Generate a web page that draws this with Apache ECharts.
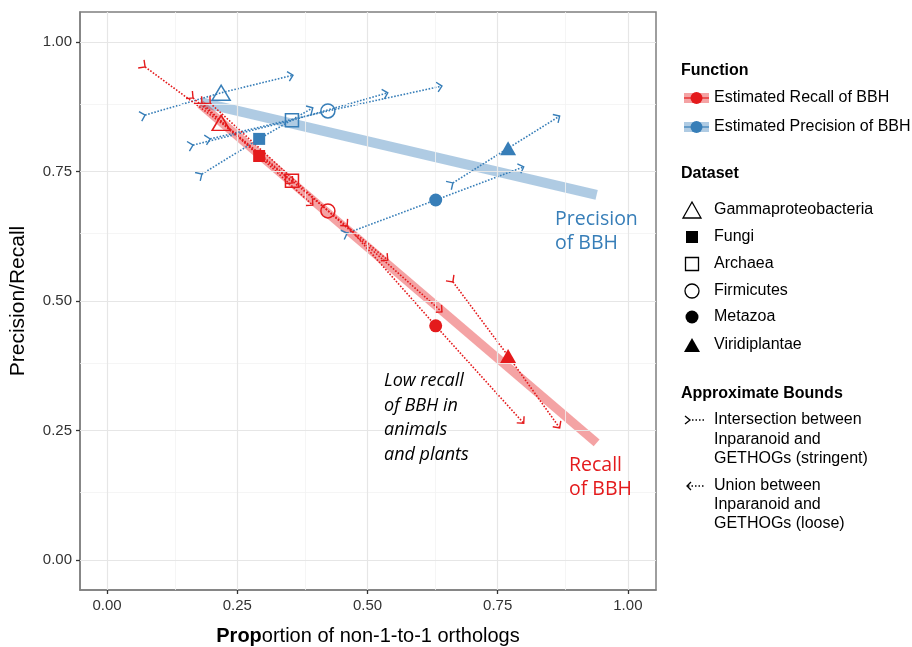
<!DOCTYPE html>
<html><head><meta charset="utf-8">
<script src="https://cdn.jsdelivr.net/npm/echarts@6/dist/echarts.min.js"></script>
<style>html,body{margin:0;padding:0;background:#fff}#c{width:912px;height:647px}</style>
</head><body><div id="c"></div>
<script>
// ---- data ----
const datasets = ['Gammaproteobacteria', 'Fungi', 'Archaea', 'Firmicutes', 'Metazoa', 'Viridiplantae'];
const propX = [0.219, 0.292, 0.355, 0.424, 0.631, 0.770];
const recallY = [0.844, 0.780, 0.732, 0.674, 0.452, 0.394];
const precisionY = [0.902, 0.813, 0.849, 0.867, 0.695, 0.795];
// approximate bounds: stringent (intersection) and loose (union)
const stringentX = [0.073, 0.182, 0.165, 0.198, 0.461, 0.664];
const looseX = [0.357, 0.395, 0.539, 0.643, 0.800, 0.869];
const recallStringentY = [0.952, 0.882, 0.892, 0.882, 0.645, 0.537];
const recallLooseY = [0.728, 0.685, 0.579, 0.479, 0.264, 0.255];
const precisionStringentY = [0.859, 0.745, 0.801, 0.813, 0.631, 0.728];
const precisionLooseY = [0.936, 0.873, 0.902, 0.915, 0.759, 0.857];
// fitted trends
const recallTrend = [[0.179, 0.880], [0.940, 0.226]];
const precisionTrend = [[0.179, 0.884], [0.940, 0.705]];
// ticks
const majorTicks = [0, 0.25, 0.5, 0.75, 1];
const minorTicks = [0.125, 0.375, 0.625, 0.875];

// ---- styles ----
const RED = '#E41A1C', BLUE = '#377EB8';
const RED_L = 'rgba(228,26,28,0.4)', BLUE_L = 'rgba(55,126,184,0.4)';
const shapeOf = {Gammaproteobacteria:'triangle', Fungi:'rect', Archaea:'rect', Firmicutes:'circle', Metazoa:'circle', Viridiplantae:'triangle'};
const filledOf = {Gammaproteobacteria:false, Fungi:true, Archaea:false, Firmicutes:false, Metazoa:true, Viridiplantae:true};
const sizeOf = {Gammaproteobacteria:[18,15], Fungi:[12,12], Archaea:[13,13], Firmicutes:[14,14], Metazoa:[13,13], Viridiplantae:[16,14]};
const AX = 'Liberation Sans, Arial, sans-serif';
const LF = '16px ' + AX;

function pts(ys, color) {
  return datasets.map((d, i) => ({
    value: [propX[i], ys[i]],
    symbol: shapeOf[d],
    symbolSize: sizeOf[d],
    itemStyle: filledOf[d] ? {color: color, borderWidth: 0, opacity: 1}
      : {color: 'rgba(0,0,0,0)', borderColor: color, borderWidth: 1.5, opacity: 1}
  }));
}

function bounds(color, sY, pY, lY) {
  return {
    type: 'custom', silent: true, z: 4,
    data: datasets.map((d, i) => [stringentX[i], sY[i], propX[i], pY[i], looseX[i], lY[i]]),
    encode: {x: 0, y: 1},
    renderItem(params, api) {
      const t = api.coord([api.value(0), api.value(1)]);
      const p = api.coord([api.value(2), api.value(3)]);
      const h = api.coord([api.value(4), api.value(5)]);
      const L = 7, a = Math.PI / 4;
      const rot = (v, g) => [v[0]*Math.cos(g) - v[1]*Math.sin(g), v[0]*Math.sin(g) + v[1]*Math.cos(g)];
      const unit = (q, r) => { const dx = q[0]-r[0], dy = q[1]-r[1], n = Math.hypot(dx, dy); return [dx/n, dy/n]; };
      const d = unit(h, p), back = [-d[0], -d[1]];
      const o = unit(t, p);
      const arm = (base, v) => [base[0] + v[0]*L, base[1] + v[1]*L];
      const st = {stroke: color, lineWidth: 1.4, fill: null};
      return {type: 'group', children: [
        {type: 'polyline', shape: {points: [t, p, h]}, style: {stroke: color, lineWidth: 1.6, fill: null, lineDash: [1.6, 1.6]}},
        {type: 'polyline', shape: {points: [arm(h, rot(back, a)), h, arm(h, rot(back, -a))]}, style: st},
        {type: 'polyline', shape: {points: [arm(t, rot(o, a)), t, arm(t, rot(o, -a))]}, style: st}
      ]};
    }
  };
}

const chart = echarts.init(document.getElementById('c'), null, {renderer: 'canvas'});

const legendX = 692, textX = 714;
const g = [];
function T(x, y, s, font, fill, extra) {
  g.push({type: 'text', x: x, y: y, z: 10, style: Object.assign({text: s, font: font, fill: fill || '#000', verticalAlign: 'middle'}, extra || {})});
}
// Function keys
[[RED, RED_L, 98, 'Estimated Recall of BBH'], [BLUE, BLUE_L, 127, 'Estimated Precision of BBH']].forEach(k => {
  g.push({type: 'rect', shape: {x: 684, y: k[2]-5, width: 25, height: 10}, style: {fill: k[1]}});
  g.push({type: 'line', shape: {x1: 684, y1: k[2], x2: 709, y2: k[2]}, style: {stroke: k[0], lineWidth: 1.2}});
  g.push({type: 'circle', shape: {cx: 696.5, cy: k[2], r: 6}, style: {fill: k[0]}});
  T(textX, k[2], k[3], LF);
});
T(681, 71, 'Function', 'bold ' + LF);
T(681, 174, 'Dataset', 'bold ' + LF);
T(681, 394, 'Approximate Bounds', 'bold ' + LF);
const dsY = [210, 237, 264, 291, 317, 345];
datasets.forEach((d, i) => {
  const y = dsY[i];
  const sty = filledOf[d] ? {fill: '#000'} : {fill: null, stroke: '#000', lineWidth: 1.3};
  if (shapeOf[d] === 'triangle') {
    const w = d === 'Viridiplantae' ? 16 : 18, hh = d === 'Viridiplantae' ? 14 : 16;
    g.push({type: 'polygon', shape: {points: [[legendX, y - hh/2], [legendX + w/2, y + hh/2], [legendX - w/2, y + hh/2]]}, style: sty});
  } else if (shapeOf[d] === 'rect') {
    const s = filledOf[d] ? 12 : 13;
    g.push({type: 'rect', shape: {x: legendX - s/2, y: y - s/2, width: s, height: s}, style: sty});
  } else {
    g.push({type: 'circle', shape: {cx: legendX, cy: y, r: filledOf[d] ? 6.5 : 7}, style: sty});
  }
  T(textX, y, d, LF);
});
// bounds keys
g.push({type: 'polyline', shape: {points: [[685, 416], [690, 420], [685, 424]]}, style: {stroke: '#000', lineWidth: 1.3, fill: null}});
g.push({type: 'line', shape: {x1: 692, y1: 420, x2: 704, y2: 420}, style: {stroke: '#000', lineWidth: 1.3, lineDash: [1.5, 2]}});
g.push({type: 'polyline', shape: {points: [[691, 482], [687, 486], [691, 490]]}, style: {stroke: '#000', lineWidth: 1.3, fill: null}});
g.push({type: 'line', shape: {x1: 688, y1: 486, x2: 704, y2: 486}, style: {stroke: '#000', lineWidth: 1.3, lineDash: [1.5, 2]}});
[['Intersection between', 420], ['Inparanoid and', 440], ['GETHOGs (stringent)', 459],
 ['Union between', 486], ['Inparanoid and', 505], ['GETHOGs (loose)', 524]].forEach(r => T(textX, r[1], r[0], LF));
// annotations
g.push({type: 'text', x: 555, y: 207, z: 10, style: {text: 'Precision\nof BBH', font: '19.5px "Open Sans", sans-serif', fill: BLUE, lineHeight: 24, width: 120, overflow: 'none'}});
g.push({type: 'text', x: 569, y: 453, z: 10, style: {text: 'Recall\nof BBH', font: '19.5px "Open Sans", sans-serif', fill: RED, lineHeight: 24, width: 120, overflow: 'none'}});
g.push({type: 'text', x: 384, y: 369, z: 10, style: {text: 'Low recall\nof BBH in\nanimals\nand plants', font: 'italic 18px "Open Sans", sans-serif', fill: '#000', lineHeight: 24.5, width: 150, overflow: 'none'}});

const axisCommon = {
  type: 'value',
  axisLine: {show: true, onZero: false, lineStyle: {color: '#7f7f7f', width: 1.5}},
  axisTick: {show: true, customValues: majorTicks, length: 4, lineStyle: {color: '#333', width: 1.3}},
  axisLabel: {customValues: majorTicks, formatter: v => v.toFixed(2), fontFamily: AX, fontSize: 15, color: '#333', margin: 8},
  splitLine: {show: false}
};

chart.setOption({
  animation: false,
  backgroundColor: '#fff',
  grid: {left: 80, top: 12, width: 576, height: 578, show: true, borderColor: '#7f7f7f', borderWidth: 1.5, backgroundColor: '#fff', containLabel: false, outerBoundsMode: 'none'},
  xAxis: Object.assign({}, axisCommon, {
    min: -0.052, max: 1.054,
    name: '{b|Prop}ortion of non-1-to-1 orthologs', nameLocation: 'middle', nameGap: 36,
    nameTextStyle: {fontFamily: AX, fontSize: 20, color: '#000', rich: {b: {fontFamily: AX, fontSize: 20, fontWeight: 'bold', color: '#000'}}}
  }),
  yAxis: Object.assign({}, axisCommon, {
    min: -0.058, max: 1.058,
    name: 'Precision/Recall', nameLocation: 'middle', nameGap: 51,
    nameTextStyle: {fontFamily: AX, fontSize: 21, color: '#000'}
  }),
  graphic: g,
  series: [
    {type: 'line', data: [], z: 1, silent: true,
     markLine: {silent: true, symbol: ['none', 'none'], label: {show: false}, animation: false,
       lineStyle: {color: '#f3f3f3', width: 0.8, type: 'solid'},
       data: minorTicks.map(v => ({xAxis: v})).concat(minorTicks.map(v => ({yAxis: v})))}},
    {type: 'line', data: [], z: 1, silent: true,
     markLine: {silent: true, symbol: ['none', 'none'], label: {show: false}, animation: false,
       lineStyle: {color: '#e6e6e6', width: 1.2, type: 'solid'},
       data: majorTicks.map(v => ({xAxis: v})).concat(majorTicks.map(v => ({yAxis: v})))}},
    {type: 'line', data: precisionTrend, symbol: 'none', z: 3, silent: true, lineStyle: {color: BLUE_L, width: 10, cap: 'butt'}},
    {type: 'line', data: recallTrend, symbol: 'none', z: 3, silent: true, lineStyle: {color: RED_L, width: 9, cap: 'butt'}},
    bounds(BLUE, precisionStringentY, precisionY, precisionLooseY),
    bounds(RED, recallStringentY, recallY, recallLooseY),
    {type: 'scatter', name: 'Estimated Precision of BBH', z: 6, data: pts(precisionY, BLUE)},
    {type: 'scatter', name: 'Estimated Recall of BBH', z: 6, data: pts(recallY, RED)}
  ]
});
</script></body></html>
